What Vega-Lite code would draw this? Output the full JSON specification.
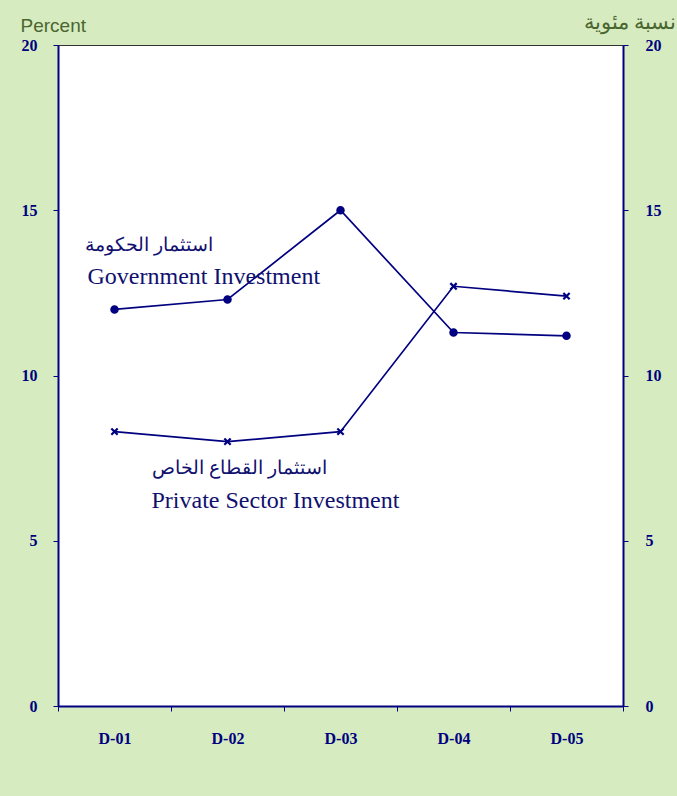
{
  "$schema": "https://vega.github.io/schema/vega-lite/v6.json",
  "width": 565,
  "height": 661,
  "autosize": {"type": "none"},
  "padding": {"left": 58, "top": 45, "right": 54, "bottom": 90},
  "background": "#d6ebbf",
  "config": {
    "view": {"fill": "white", "stroke": "#333333", "strokeWidth": 1},
    "axis": {"grid": false}
  },
  "datasets": {
    "series": [
      {"period": "D-01", "series": "Government Investment", "value": 12.0},
      {"period": "D-02", "series": "Government Investment", "value": 12.3},
      {"period": "D-03", "series": "Government Investment", "value": 15.0},
      {"period": "D-04", "series": "Government Investment", "value": 11.3},
      {"period": "D-05", "series": "Government Investment", "value": 11.2},
      {"period": "D-01", "series": "Private Sector Investment", "value": 8.3},
      {"period": "D-02", "series": "Private Sector Investment", "value": 8.0},
      {"period": "D-03", "series": "Private Sector Investment", "value": 8.3},
      {"period": "D-04", "series": "Private Sector Investment", "value": 12.7},
      {"period": "D-05", "series": "Private Sector Investment", "value": 12.4}
    ],
    "one": [{}]
  },
  "encoding": {
    "x": {
      "field": "period", "type": "nominal",
      "scale": {"type": "band", "paddingInner": 0, "paddingOuter": 0},
      "axis": {
        "title": null, "labelAngle": 0, "tickBand": "extent",
        "domainColor": "#000080", "domainWidth": 2,
        "tickColor": "#000080", "tickSize": 5, "tickWidth": 1,
        "labelColor": "#000080", "labelFont": "Liberation Serif", "labelFontWeight": "bold",
        "labelFontSize": 16, "labelPadding": 19
      }
    }
  },
  "layer": [
    {
      "data": {"name": "series"},
      "mark": {"type": "line", "color": "#000080", "strokeWidth": 1.7},
      "encoding": {
        "y": {
          "field": "value", "type": "quantitative",
          "scale": {"domain": [0, 20], "nice": false},
          "axis": {
            "orient": "left", "values": [0, 5, 10, 15, 20],
            "title": "Percent", "titleAngle": 0, "titleAlign": "left", "titleBaseline": "alphabetic",
            "titleX": -38, "titleY": -14, "titleFont": "Liberation Sans", "titleFontSize": 19,
            "titleFontWeight": "normal", "titleColor": "#4a6630",
            "domainColor": "#000080", "domainWidth": 2,
            "tickColor": "#000080", "tickSize": 5, "tickWidth": 1,
            "labelColor": "#000080", "labelFont": "Liberation Serif", "labelFontWeight": "bold",
            "labelFontSize": 16, "labelPadding": 16
          }
        },
        "detail": {"field": "series"}
      }
    },
    {
      "data": {"name": "series"},
      "mark": {"type": "point", "filled": true, "opacity": 1, "color": "#000080"},
      "encoding": {
        "y": {
          "field": "value", "type": "quantitative",
          "scale": {"domain": [0, 20], "nice": false},
          "axis": {
            "orient": "right", "values": [0, 5, 10, 15, 20],
            "title": "نسبة مئوية", "titleAngle": 0, "titleAlign": "right", "titleBaseline": "alphabetic",
            "titleX": 53, "titleY": -17, "titleFont": "Liberation Sans", "titleFontSize": 21,
            "titleFontWeight": "normal", "titleColor": "#4a6630",
            "domainColor": "#000080", "domainWidth": 2,
            "tickColor": "#000080", "tickSize": 5, "tickWidth": 1,
            "labelColor": "#000080", "labelFont": "Liberation Serif", "labelFontWeight": "bold",
            "labelFontSize": 16, "labelPadding": 17
          }
        },
        "shape": {
          "field": "series", "type": "nominal",
          "scale": {"domain": ["Government Investment", "Private Sector Investment"], "range": ["circle", "M-1,-1L1,1M1,-1L-1,1"]},
          "legend": null
        },
        "size": {
          "field": "series", "type": "nominal",
          "scale": {"domain": ["Government Investment", "Private Sector Investment"], "range": [40, 40]},
          "legend": null
        },
        "strokeWidth": {"value": 2.2},
        "stroke": {"value": "#000080"}
      }
    },
    {
      "data": {"name": "one"},
      "mark": {"type": "text", "align": "left", "baseline": "middle", "font": "Liberation Sans", "fontSize": 19, "fontWeight": "normal", "color": "#10106e", "dx": -30},
      "encoding": {"x": {"datum": "D-01"}, "y": {"datum": 13.95, "axis": null}, "text": {"value": "استثمار الحكومة"}}
    },
    {
      "data": {"name": "one"},
      "mark": {"type": "text", "align": "left", "baseline": "middle", "font": "Liberation Serif", "fontSize": 24, "fontWeight": "normal", "color": "#10106e", "dx": -27},
      "encoding": {"x": {"datum": "D-01"}, "y": {"datum": 12.97, "axis": null}, "text": {"value": "Government Investment"}}
    },
    {
      "data": {"name": "one"},
      "mark": {"type": "text", "align": "left", "baseline": "middle", "font": "Liberation Sans", "fontSize": 19, "fontWeight": "normal", "color": "#10106e", "dx": 37},
      "encoding": {"x": {"datum": "D-01"}, "y": {"datum": 7.2, "axis": null}, "text": {"value": "استثمار القطاع الخاص"}}
    },
    {
      "data": {"name": "one"},
      "mark": {"type": "text", "align": "left", "baseline": "middle", "font": "Liberation Serif", "fontSize": 24, "fontWeight": "normal", "color": "#10106e", "dx": 37},
      "encoding": {"x": {"datum": "D-01"}, "y": {"datum": 6.2, "axis": null}, "text": {"value": "Private Sector Investment"}}
    }
  ],
  "resolve": {"axis": {"y": "independent"}}
}
